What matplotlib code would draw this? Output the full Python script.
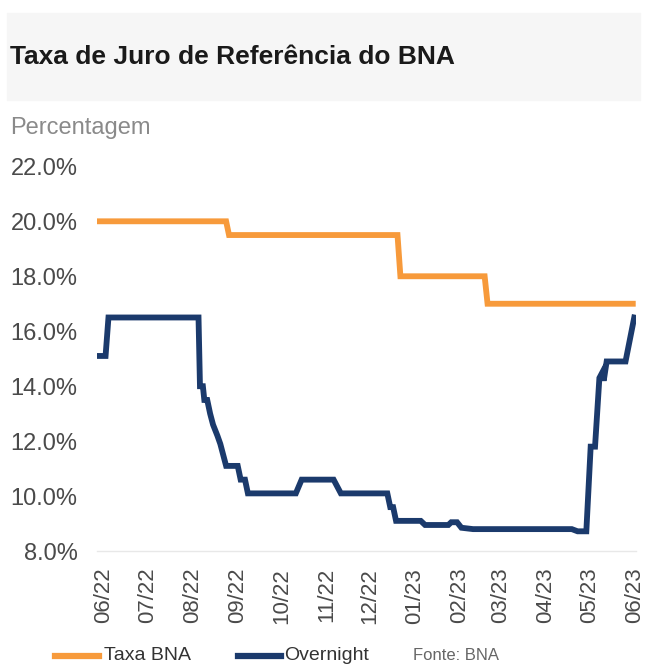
import matplotlib
matplotlib.use("Agg")
import matplotlib.pyplot as plt
import matplotlib.patches as mpatches
from matplotlib.lines import Line2D
import pandas as pd

plt.rcParams['font.family'] = ['Liberation Sans', 'DejaVu Sans']

# Taxa BNA (policy rate)
bna_dates = ["2022-05-28", "2022-08-24", "2022-08-26", "2022-12-20",
             "2022-12-22", "2023-02-18", "2023-02-20", "2023-05-31"]
bna_vals = [20.0, 20.0, 19.5, 19.5, 18.0, 18.0, 17.0, 17.0]

# Overnight rate
on_dates = ["2022-05-28", "2022-06-02", "2022-06-04", "2022-08-05", "2022-08-06",
            "2022-08-08", "2022-08-09", "2022-08-11", "2022-08-13", "2022-08-15",
            "2022-08-18", "2022-08-20", "2022-08-22", "2022-08-24", "2022-09-01",
            "2022-09-03", "2022-09-06", "2022-09-08", "2022-10-11", "2022-10-15",
            "2022-11-06", "2022-11-11", "2022-12-13", "2022-12-15", "2022-12-17",
            "2022-12-19", "2023-01-05", "2023-01-08", "2023-01-24", "2023-01-26",
            "2023-01-30", "2023-02-02", "2023-02-10", "2023-04-19", "2023-04-23",
            "2023-04-29", "2023-05-02", "2023-05-05", "2023-05-08", "2023-05-10",
            "2023-05-11", "2023-05-13", "2023-05-26", "2023-06-01"]
on_vals = [15.1, 15.1, 16.5, 16.5, 14.0,
           14.0, 13.5, 13.5, 13.0, 12.6,
           12.2, 11.9, 11.5, 11.1, 11.1,
           10.6, 10.6, 10.1, 10.1, 10.6,
           10.6, 10.1, 10.1, 9.6, 9.6,
           9.1, 9.1, 8.95, 8.95, 9.05,
           9.05, 8.85, 8.8, 8.8, 8.72,
           8.72, 11.8, 11.8, 14.3, 14.5,
           14.2, 14.9, 14.9, 16.5]

months = pd.date_range("2022-06-01", "2023-06-01", freq="MS")
yticks = [8, 10, 12, 14, 16, 18, 20, 22]

orange = "#F79A3B"
navy = "#1B3A6C"

fig = plt.figure(figsize=(6.5, 6.68), dpi=100)

# light grey header band (scanned page)
fig.patches.append(mpatches.Rectangle((0.01, 0.85), 0.975, 0.13, transform=fig.transFigure,
                                      color="#f6f6f6", zorder=0))
fig.text(0.015, 0.914, "Taxa de Juro de Referência do BNA", fontsize=19, fontweight="bold",
         color="#1a1a1a", va="center", ha="left")
fig.text(0.015, 0.808, "Percentagem", fontsize=17, color="#8a8a8a", va="center", ha="left")

ax = fig.add_axes([0.149, 0.175, 0.829, 0.576])
ax.plot(pd.to_datetime(bna_dates), bna_vals, color=orange, lw=4.2, solid_joinstyle="miter")
ax.plot(pd.to_datetime(on_dates), on_vals, color=navy, lw=4.2, solid_joinstyle="miter")

ax.set_ylim(8, 22)
ax.set_yticks(yticks)
ax.set_yticklabels([f"{v:.1f}%" for v in yticks])
ax.set_xlim(pd.Timestamp("2022-05-27"), pd.Timestamp("2023-06-02"))
ax.set_xticks(months)
ax.set_xticklabels([d.strftime("%m/%y") for d in months], rotation=90)
ax.tick_params(axis="both", length=0, labelcolor="#4a4a4a")
ax.tick_params(axis="x", pad=12, labelsize=16)
ax.tick_params(axis="y", pad=14, labelsize=17)
for s in ["top", "right", "left"]:
    ax.spines[s].set_visible(False)
ax.spines["bottom"].set_color("#e8e8e8")
ax.spines["bottom"].set_linewidth(1)

# legend drawn by hand along the bottom
ly = 0.018
fig.add_artist(Line2D([0.085, 0.153], [ly, ly], color=orange, lw=4.5,
                      transform=fig.transFigure))
fig.text(0.160, ly, "Taxa BNA", fontsize=14, color="#333333", va="center", ha="left")
fig.add_artist(Line2D([0.366, 0.433], [ly, ly], color=navy, lw=4.5,
                      transform=fig.transFigure))
fig.text(0.437, ly, "Overnight", fontsize=14, color="#333333", va="center", ha="left")
fig.text(0.635, ly, "Fonte: BNA", fontsize=12, color="#666666", va="center", ha="left")

fig.savefig("out.png", dpi=100)
